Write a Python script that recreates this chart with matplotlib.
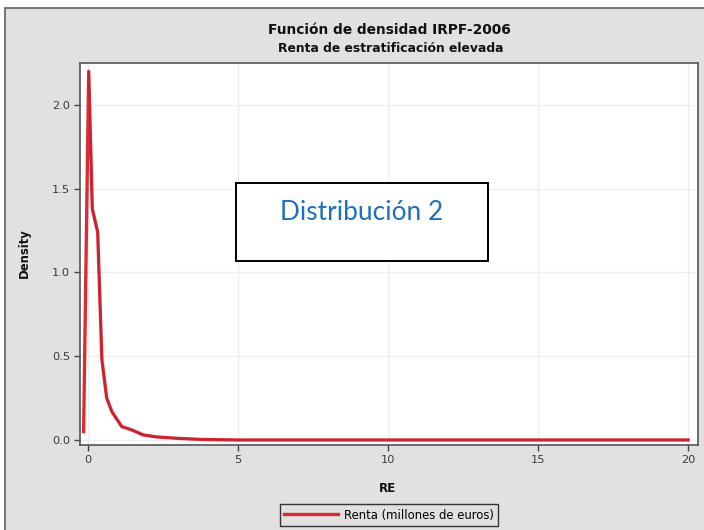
import matplotlib
matplotlib.use("Agg")
import matplotlib.pyplot as plt
from matplotlib.patches import Rectangle
from matplotlib.lines import Line2D

# Data
re_x = [-0.15, 0.02, 0.14, 0.32, 0.46, 0.62, 0.79, 1.12, 1.46, 1.84, 2.29, 2.96, 3.8, 5.0, 10.0, 15.0, 20.0]
density = [0.05, 2.20, 1.38, 1.24, 0.48, 0.25, 0.17, 0.08, 0.06, 0.03, 0.018, 0.01, 0.003, 0.0, 0.0, 0.0, 0.0]
x_ticks = [0, 5, 10, 15, 20]
y_ticks = [0.0, 0.5, 1.0, 1.5, 2.0]
title = "Función de densidad IRPF-2006"
subtitle = "Renta de estratificación elevada"
series_label = "Renta (millones de euros)"
box_text = "Distribución 2"

W, H = 704, 530
fig = plt.figure(figsize=(W / 100, H / 100), dpi=100)
fig.patch.set_facecolor("white")

def fx(px):
    return px / W

def fy(py):
    return 1 - py / H

# gray panel
panel = Rectangle((fx(5), fy(540)), fx(710) - fx(5), fy(8) - fy(540), transform=fig.transFigure,
                  facecolor="#e1e1e1", edgecolor="#606060", lw=1.2, zorder=-10)
fig.patches.append(panel)

ax = fig.add_axes([fx(80), fy(445), fx(698) - fx(80), fy(63) - fy(445)])
ax.set_zorder(1)
ax.set_facecolor("white")
ax.plot(re_x, density, color="#dc2a36", lw=2.4, solid_joinstyle="round", zorder=3)
ax.plot(re_x[1:], density[1:], color="#9a2030", lw=0.9, alpha=0.6, zorder=4)

ax.set_xlim(-0.27, 20.33)
ax.set_ylim(-0.03, 2.25)
ax.set_xticks(x_ticks)
ax.set_yticks(y_ticks)
ax.set_yticklabels([f"{v:.1f}" for v in y_ticks])
ax.tick_params(direction="out", length=4, width=1, color="#404040", labelcolor="#3a3a3a",
               labelsize=8.2, pad=3)
ax.grid(True, color="#eeeeee", lw=1)
ax.set_axisbelow(True)
for s in ax.spines.values():
    s.set_color("#555555")
    s.set_linewidth(1.2)

fig.text(fx(389), fy(30), title, ha="center", va="center", fontsize=9.9, fontweight="bold",
         family="DejaVu Sans", color="#111111")
fig.text(fx(391), fy(49), subtitle, ha="center", va="center", fontsize=8.9, fontweight="bold",
         family="DejaVu Sans", color="#111111")
fig.text(fx(24), fy(253), "Density", ha="center", va="center", rotation=90, fontsize=8.4,
         fontweight="bold", family="DejaVu Sans", color="#111111")
fig.text(fx(388), fy(488), "RE", ha="center", va="center", fontsize=8.6,
         fontweight="bold", family="DejaVu Sans", color="#111111")

# legend
handle = Line2D([], [], color="#dc2a36", lw=2.4)
leg = fig.legend([handle], [series_label], loc="center", bbox_to_anchor=(fx(389), fy(515)),
                 frameon=True, fancybox=False, edgecolor="#333333", facecolor="#e1e1e1",
                 framealpha=1, handlelength=4.6, handletextpad=0.5, borderpad=0.35,
                 prop={"family": "DejaVu Sans", "size": 8.4})
leg.get_frame().set_linewidth(1.0)

# annotation box
box = Rectangle((fx(236), fy(261)), fx(488) - fx(236), fy(183) - fy(261), transform=fig.transFigure,
                facecolor="white", edgecolor="black", lw=1.4, zorder=5)
fig.patches.append(box)
fig.text(fx(362), fy(213), box_text, ha="center", va="center", fontsize=18.9, color="#1f6fbf",
         family="Lato", zorder=6)

fig.savefig("out.png", dpi=100)
